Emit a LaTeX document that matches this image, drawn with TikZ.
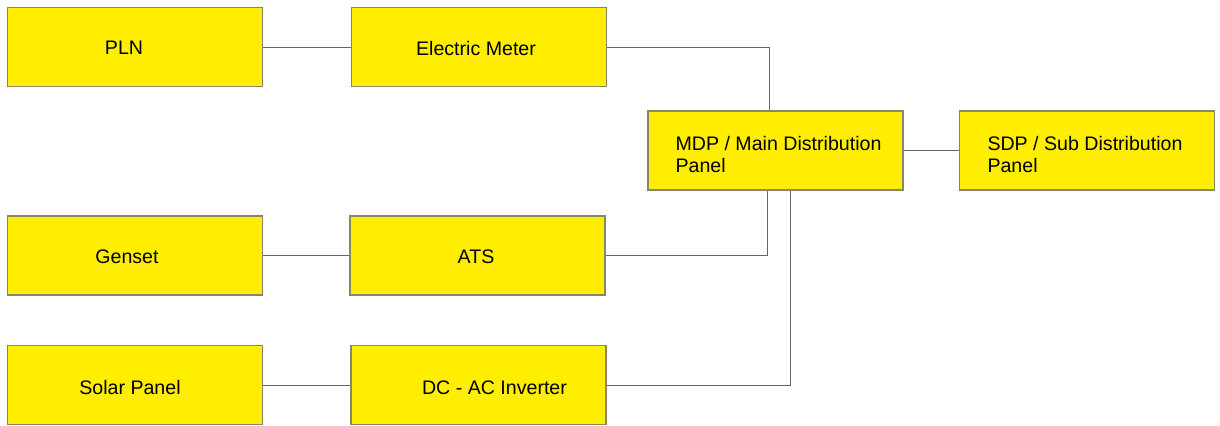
\documentclass[tikz,border=0pt]{standalone}
\usepackage{fontspec}
\setmainfont{Liberation Sans}
\usetikzlibrary{positioning,calc}
\definecolor{boxyellow}{HTML}{FFEE00}
\definecolor{boxedge}{HTML}{8A8660}

\begin{document}
\begin{tikzpicture}[
  x=0.5pt, y=-0.5pt,
  font=\fontsize{9.8}{10.6}\selectfont,
  unit/.style={draw=boxedge, line width=0.6pt, fill=boxyellow, minimum width=127.5pt, minimum height=39.5pt, inner sep=0pt},
  link/.style={draw=black!60, line width=0.5pt},
  every label/.style={align=left},
]
\useasboundingbox (0,0) rectangle (1220,425);
% sources
\node[unit, label={[xshift=-5.5pt, yshift=-0.6pt]center:PLN}] (pln) at (135,47) {};
\node[unit, label={[xshift=-1.5pt, yshift=-0.6pt]center:Electric Meter}] (meter) at (479,47) {};
\node[unit, label={[xshift=-4pt, yshift=-0.8pt]center:Genset}] (genset) at (135,255.5) {};
\node[unit, label={[xshift=-0.75pt, yshift=-0.8pt]center:ATS}] (ats) at (477.5,255.5) {};
\node[unit, label={[xshift=-2.5pt, yshift=-1.2pt]center:Solar Panel}] (solar) at (135,385) {};
\node[unit, label={[xshift=8pt, yshift=-1.2pt]center:DC - AC Inverter}] (inverter) at (478.5,385) {};
% panels
\node[unit, label={[xshift=1.5pt, yshift=-2pt]center:{MDP / Main Distribution\\Panel}}] (mdp) at (775.5,150.5) {};
\node[unit, label={[xshift=-1pt, yshift=-2pt]center:{SDP / Sub Distribution\\Panel}}] (sdp) at (1087,150.5) {};
% wiring
\draw[link] (pln.east) -- (meter.west);
\draw[link] (genset.east) -- (ats.west);
\draw[link] (solar.east) -- (inverter.west);
\draw[link] (meter.east) -| ([xshift=-3.25pt]mdp.north);
\draw[link] (ats.east) -| ([xshift=-4.25pt]mdp.south);
\draw[link] (inverter.east) -| ([xshift=7.25pt]mdp.south);
\draw[link] (mdp.east) -- (sdp.west);
\end{tikzpicture}
\end{document}
